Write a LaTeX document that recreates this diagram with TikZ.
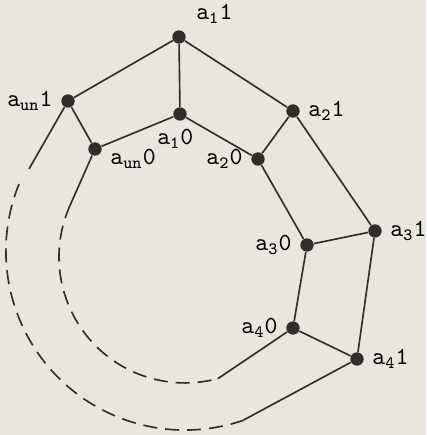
\documentclass[tikz,border=0pt]{standalone}
\usepackage{tikz}
\usetikzlibrary{positioning}

\definecolor{paper}{RGB}{233,229,223}
\definecolor{ink}{RGB}{48,45,43}

\tikzset{
  vtx/.style={circle,fill=ink,inner sep=0pt,minimum size=2mm,label distance=0.5mm},
  link/.style={draw=ink,line width=0.7pt},
  dashlink/.style={draw=ink,line width=0.7pt,dash pattern=on 2.1mm off 1.2mm},
}

\begin{document}
\begin{tikzpicture}[scale=0.015,font=\ttfamily\fontsize{10.5}{12}\selectfont]
      \useasboundingbox (0,0) rectangle (426,435);
      \fill[paper] (0,0) rectangle (426,435);
      % the 1-vertices (outer ring)
      \node[vtx,label={[xshift=0.6mm]above right:{a\textsubscript{1}1}}] (a11) at (179,398) {};
      \node[vtx,label={left:{a\textsubscript{un}1}}] (aun1) at (68,334) {};
      \node[vtx,label={right:{a\textsubscript{2}1}}] (a21) at (293,324) {};
      \node[vtx,label={right:{a\textsubscript{3}1}}] (a31) at (375,204) {};
      \node[vtx,label={right:{a\textsubscript{4}1}}] (a41) at (357,76) {};
      % the 0-vertices (inner ring)
      \node[vtx,label={[xshift=-0.7mm]below:{a\textsubscript{1}0}}] (a10) at (180,321) {};
      \node[vtx,label={[yshift=-1.5mm]right:{a\textsubscript{un}0}}] (aun0) at (95,286) {};
      \node[vtx,label={left:{a\textsubscript{2}0}}] (a20) at (258,276) {};
      \node[vtx,label={left:{a\textsubscript{3}0}}] (a30) at (307,190) {};
      \node[vtx,label={left:{a\textsubscript{4}0}}] (a40) at (293,107) {};
      % free ends of the dashed arcs
      \coordinate (in1) at (70.2,229.9);
      \coordinate (in2) at (217.8,56.3);
      \coordinate (out1) at (29,266);
      \coordinate (out1b) at (19,251);
      \coordinate (out2) at (243.3,14.8);
      % edges
      \draw[link] (a11) -- (aun1);
      \draw[link] (a11) -- (a10);
      \draw[link] (a11) -- (a21);
      \draw[link] (aun1) -- (aun0);
      \draw[link] (a10) -- (aun0);
      \draw[link] (a10) -- (a20);
      \draw[link] (a21) -- (a20);
      \draw[link] (a21) -- (a31);
      \draw[link] (a20) -- (a30);
      \draw[link] (a30) -- (a31);
      \draw[link] (a30) -- (a40);
      \draw[link] (a31) -- (a41);
      \draw[link] (a40) -- (a41);
      % the rest of the two rings
      \draw[link] (aun0) -- (in1);
      \draw[dashlink] (in1) arc[start angle=155.7,end angle=285.1,radius=126];
      \draw[link] (in2) -- (a40);
      \draw[link] (aun1) -- (out1);
      \draw[dashlink] (out1b) arc[start angle=158,end angle=289,radius=179];
      \draw[link] (out2) -- (a41);
    \end{tikzpicture}
\end{document}
